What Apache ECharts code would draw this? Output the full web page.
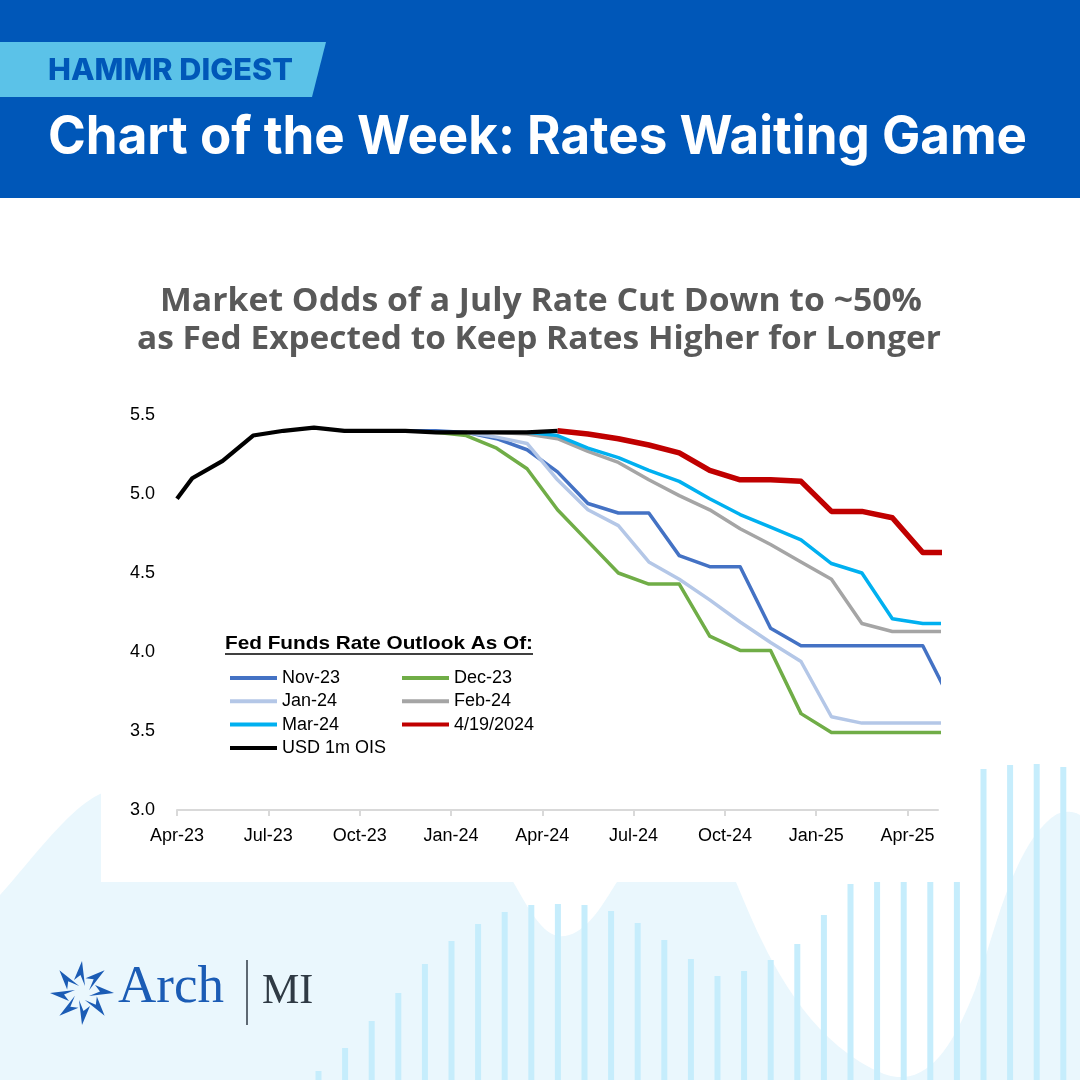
<!DOCTYPE html>
<html><head><meta charset="utf-8">
<script src="https://cdn.jsdelivr.net/npm/echarts@6/dist/echarts.min.js"></script>
<style>html,body{margin:0;padding:0;background:#fff}#c{width:1080px;height:1080px}</style>
</head><body><div id="c"></div>
<script>
// ---------- DATA ----------
// x positions in months since Apr-2023 (points sit mid-month)
const xMonths = [0, 0.5, 1.5, 2.5, 3.5, 4.5, 5.5, 6.5, 7.5, 8.5, 9.5, 10.5, 11.5, 12.5, 13.5, 14.5, 15.5, 16.5, 17.5, 18.5, 19.5, 20.5, 21.5, 22.5, 23.5, 24.5, 25.5];
const xTickMonths = [0, 3, 6, 9, 12, 15, 18, 21, 24];
const xTickLabels = ['Apr-23', 'Jul-23', 'Oct-23', 'Jan-24', 'Apr-24', 'Jul-24', 'Oct-24', 'Jan-25', 'Apr-25'];
const seriesNames = ['Nov-23', 'Dec-23', 'Jan-24', 'Feb-24', 'Mar-24', '4/19/2024', 'USD 1m OIS'];
const _ = null;
const nov23 = [_, _, _, _, _, _, _, _, 5.40, 5.40, 5.39, 5.35, 5.28, 5.14, 4.94, 4.88, 4.88, 4.61, 4.54, 4.54, 4.15, 4.04, 4.04, 4.04, 4.04, 4.04, 3.66];
const dec23 = [_, _, _, _, _, _, _, _, _, 5.39, 5.37, 5.29, 5.16, 4.90, 4.70, 4.50, 4.43, 4.43, 4.10, 4.01, 4.01, 3.61, 3.49, 3.49, 3.49, 3.49, 3.49];
const jan24 = [_, _, _, _, _, _, _, _, _, _, 5.39, 5.36, 5.32, 5.09, 4.90, 4.80, 4.57, 4.46, 4.33, 4.19, 4.06, 3.94, 3.59, 3.55, 3.55, 3.55, 3.55];
const feb24 = [_, _, _, _, _, _, _, _, _, _, _, 5.39, 5.38, 5.35, 5.27, 5.20, 5.09, 4.99, 4.90, 4.78, 4.68, 4.57, 4.46, 4.18, 4.13, 4.13, 4.13];
const mar24 = [_, _, _, _, _, _, _, _, _, _, _, _, 5.39, 5.37, 5.29, 5.23, 5.15, 5.08, 4.97, 4.87, 4.79, 4.71, 4.56, 4.50, 4.21, 4.18, 4.18];
const apr1924 = [_, _, _, _, _, _, _, _, _, _, _, _, _, 5.40, 5.38, 5.35, 5.31, 5.26, 5.15, 5.09, 5.09, 5.08, 4.89, 4.89, 4.85, 4.63, 4.63];
const usdOis = [4.97, 5.10, 5.21, 5.37, 5.40, 5.42, 5.40, 5.40, 5.40, 5.39, 5.39, 5.39, 5.39, 5.40, _, _, _, _, _, _, _, _, _, _, _, _, _];

// ---------- STYLES ----------
const colors = ['#4472C4', '#70AD47', '#B4C7E7', '#A5A5A5', '#00B0F0', '#C00000', '#000000'];
const widths = [3.5, 3.5, 3.5, 3.5, 3.5, 5.5, 4.2];
const valueSets = [nov23, dec23, jan24, feb24, mar24, apr1924, usdOis];

// decorative background bars (not data)
const decoBarX0 = 318.5, decoBarStep = 26.6;
const decoBarTops = [1071, 1048, 1021, 993, 964, 941, 924, 912, 905, 904, 905, 911, 923, 940, 959, 976, 971, 960, 944, 915, 884, 870, 870, 870, 870, 769, 765, 764, 767];

const ctx = document.createElement('canvas').getContext('2d');
function measure(text, font) { ctx.font = font; return ctx.measureText(text).width; }

function scaledText(text, family, weight, size, left, cy, targetW, color, z) {
  const font = weight + ' ' + size + 'px "' + family + '"';
  const w = measure(text, font);
  return {
    type: 'text', x: left, y: cy, scaleX: targetW / w, z: z,
    style: { text: text, fill: color, font: font, align: 'left', verticalAlign: 'middle' }
  };
}

// bezier sampling for the decorative wave outline
function wavePoints() {
  const segs = [
    ['M', [0, 895]],
    ['C', [40, 850], [75, 800], [110, 790]],
    ['L', [500, 860]],
    ['C', [520, 890], [535, 930], [557, 936]],
    ['C', [585, 940], [605, 900], [617, 882]],
    ['L', [700, 800]],
    ['L', [736, 882]],
    ['C', [760, 940], [800, 1040], [884, 1074]],
    ['C', [930, 1090], [955, 1040], [975, 990]],
    ['C', [995, 930], [1015, 840], [1057, 814]],
    ['C', [1068, 810], [1075, 812], [1080, 815]],
    ['L', [1080, 1080]],
    ['L', [0, 1080]]
  ];
  const pts = [];
  let cur = null;
  segs.forEach(function (s) {
    if (s[0] === 'M' || s[0] === 'L') { cur = s[1]; pts.push(cur); }
    else {
      const p0 = cur, p1 = s[1], p2 = s[2], p3 = s[3];
      for (let t = 1; t <= 20; t++) {
        const u = t / 20, a = (1 - u) * (1 - u) * (1 - u), b = 3 * u * (1 - u) * (1 - u), c = 3 * u * u * (1 - u), d = u * u * u;
        pts.push([a * p0[0] + b * p1[0] + c * p2[0] + d * p3[0], a * p0[1] + b * p1[1] + c * p2[1] + d * p3[1]]);
      }
      cur = p3;
    }
  });
  return pts;
}

const graphics = [];
graphics.push({ type: 'polygon', z: -20, shape: { points: wavePoints() }, style: { fill: '#EAF7FD' } });
decoBarTops.forEach(function (t, k) {
  graphics.push({ type: 'rect', z: -19, shape: { x: decoBarX0 + decoBarStep * k - 3, y: t, width: 6, height: 1080 - t }, style: { fill: '#C6EDFC' } });
});
graphics.push({ type: 'rect', z: -18, shape: { x: 101, y: 198, width: 869, height: 684 }, style: { fill: '#ffffff' } });
graphics.push({ type: 'rect', z: -17, shape: { x: 0, y: 0, width: 1080, height: 198 }, style: { fill: '#0057B8' } });
graphics.push({ type: 'polygon', z: -16, shape: { points: [[0, 42], [326, 42], [312, 97], [0, 97]] }, style: { fill: '#5BC2E8' } });
graphics.push(scaledText('HAMMR DIGEST', 'Inter', '800', 30, 48, 71, 245, '#0057B8', -15));
graphics.push(scaledText('Chart of the Week: Rates Waiting Game', 'Inter', '700', 53, 48, 138, 979, '#ffffff', -15));
graphics.push(scaledText('Market Odds of a July Rate Cut Down to ~50%', 'Open Sans', '700', 33, 160, 302, 762, '#595959', -15));
graphics.push(scaledText('as Fed Expected to Keep Rates Higher for Longer', 'Open Sans', '700', 33, 137, 340, 804, '#595959', -15));
graphics.push(scaledText('Fed Funds Rate Outlook As Of:', 'Liberation Sans', 'bold', 19, 225, 644, 308, '#000000', 5));
graphics.push({ type: 'line', z: 5, shape: { x1: 225, y1: 654, x2: 533, y2: 654 }, style: { stroke: '#000', lineWidth: 1.3 } });
(function () {
  const cx = 82, cy = 993;
  const dart = [[32, 0], [13, -8], [18, -1.5], [7, 3]];
  for (let i = 0; i < 8; i++) {
    const a = -Math.PI / 2 + i * Math.PI / 4;
    const pts = dart.map(function (p) {
      return [cx + p[0] * Math.cos(a) - p[1] * Math.sin(a), cy + p[0] * Math.sin(a) + p[1] * Math.cos(a)];
    });
    graphics.push({ type: 'polygon', z: -10, shape: { points: pts }, style: { fill: '#1B5CB5' } });
  }
})();
graphics.push({ type: 'text', z: -10, x: 118, y: 988, style: { text: 'Arch', fill: '#1B5CB5', font: '53px "Liberation Serif"', verticalAlign: 'middle' } });
graphics.push({ type: 'line', z: -10, shape: { x1: 247, y1: 960, x2: 247, y2: 1025 }, style: { stroke: '#2F3A44', lineWidth: 1.5 } });
graphics.push({ type: 'text', z: -10, x: 262, y: 992, style: { text: 'MI', fill: '#2F3A44', font: '42px "Liberation Serif"', verticalAlign: 'middle' } });

const series = seriesNames.map(function (name, i) {
  const data = [];
  valueSets[i].forEach(function (v, j) { if (v !== null) data.push([xMonths[j], v]); });
  return {
    name: name, type: 'line', data: data, color: colors[i], symbol: 'none', silent: true,
    lineStyle: { width: widths[i], color: colors[i], join: 'round', cap: 'butt' },
    z: 2 + i
  };
});

const legendCommon = {
  orient: 'vertical', itemWidth: 47, itemHeight: 4, itemGap: 3.3, icon: 'rect', selectedMode: false,
  textStyle: { fontSize: 18, lineHeight: 20, color: '#000', fontFamily: 'Liberation Sans' }
};

const chart = echarts.init(document.getElementById('c'), null, { renderer: 'canvas' });
chart.setOption({
  animation: false,
  backgroundColor: '#ffffff',
  graphic: { elements: graphics },
  grid: { left: 177, right: 142, top: 415, bottom: 270 },
  legend: [
    Object.assign({ data: ['Nov-23', 'Jan-24', 'Mar-24', 'USD 1m OIS'], left: 225, top: 663 }, legendCommon),
    Object.assign({ data: ['Dec-23', 'Feb-24', '4/19/2024'], left: 397, top: 663 }, legendCommon)
  ],
  xAxis: {
    type: 'value', min: 0, max: 25,
    axisLine: { show: true, lineStyle: { color: '#D9D9D9', width: 2 } },
    axisTick: { show: true, customValues: xTickMonths, length: 6, lineStyle: { color: '#D9D9D9', width: 2 } },
    axisLabel: {
      customValues: xTickMonths, margin: 17, fontSize: 18, color: '#000', fontFamily: 'Liberation Sans',
      formatter: function (v) { const k = xTickMonths.indexOf(v); return k >= 0 ? xTickLabels[k] : ''; }
    },
    splitLine: { show: false }
  },
  yAxis: {
    type: 'value', min: 3.0, max: 5.5, interval: 0.5,
    axisLine: { show: false }, axisTick: { show: false },
    axisLabel: { margin: 22, fontSize: 18, color: '#000', fontFamily: 'Liberation Sans', formatter: function (v) { return v.toFixed(1); } },
    splitLine: { show: false }
  },
  series: series
});
</script>
</body></html>
